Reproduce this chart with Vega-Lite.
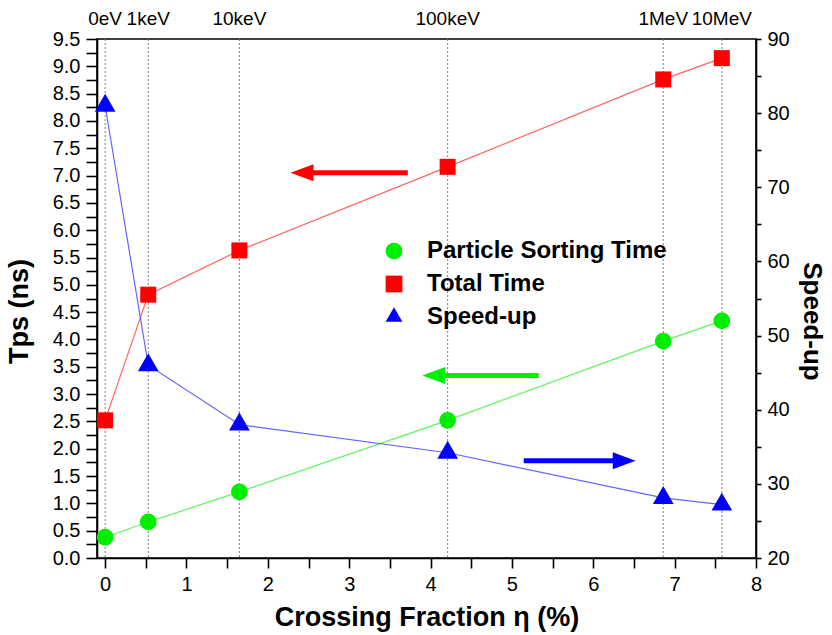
{
  "$schema": "https://vega.github.io/schema/vega-lite/v6.json",
  "width": 659,
  "height": 519,
  "autosize": {"type": "none"},
  "padding": {"left": 97, "top": 39, "right": 76, "bottom": 77},
  "background": "white",
  "config": {
    "view": {"stroke": "black", "strokeWidth": 1.6},
    "axis": {
      "grid": false,
      "domainColor": "black",
      "domainWidth": 1.6,
      "tickColor": "black",
      "tickWidth": 1.6,
      "labelFont": "Liberation Sans",
      "labelFontSize": 20,
      "labelColor": "black",
      "labelFlush": false,
      "labelOverlap": false,
      "titleFont": "Liberation Sans",
      "titleFontSize": 27,
      "titleFontWeight": "bold",
      "titleColor": "black"
    },
    "legend": {
      "title": null,
      "orient": "none",
      "legendX": 285,
      "legendY": 200,
      "labelFont": "Liberation Sans",
      "labelFontSize": 24,
      "labelFontWeight": "bold",
      "labelColor": "black",
      "labelLimit": 400,
      "labelOffset": 21,
      "rowPadding": 9,
      "symbolSize": 280
    }
  },
  "datasets": {
    "series": [
      {"series": "Particle Sorting Time", "eta": 0, "value": 0.38},
      {"series": "Particle Sorting Time", "eta": 0.53, "value": 0.66},
      {"series": "Particle Sorting Time", "eta": 1.65, "value": 1.21},
      {"series": "Particle Sorting Time", "eta": 4.21, "value": 2.52},
      {"series": "Particle Sorting Time", "eta": 6.86, "value": 3.97},
      {"series": "Particle Sorting Time", "eta": 7.58, "value": 4.34},
      {"series": "Total Time", "eta": 0, "value": 2.52},
      {"series": "Total Time", "eta": 0.53, "value": 4.82},
      {"series": "Total Time", "eta": 1.65, "value": 5.63},
      {"series": "Total Time", "eta": 4.21, "value": 7.16},
      {"series": "Total Time", "eta": 6.86, "value": 8.76},
      {"series": "Total Time", "eta": 7.58, "value": 9.15},
      {"series": "Speed-up", "eta": 0, "value": 81},
      {"series": "Speed-up", "eta": 0.53, "value": 46},
      {"series": "Speed-up", "eta": 1.65, "value": 38},
      {"series": "Speed-up", "eta": 4.21, "value": 34.2},
      {"series": "Speed-up", "eta": 6.86, "value": 28.1},
      {"series": "Speed-up", "eta": 7.58, "value": 27.2}
    ],
    "energies": [
      {"energy": "0eV", "eta": 0},
      {"energy": "1keV", "eta": 0.53},
      {"energy": "10keV", "eta": 1.65},
      {"energy": "100keV", "eta": 4.21},
      {"energy": "1MeV", "eta": 6.86},
      {"energy": "10MeV", "eta": 7.58}
    ],
    "arrows": [
      {"series": "Total Time", "tail": 3.72, "head": 2.42, "level": 7.05},
      {"series": "Particle Sorting Time", "tail": 5.33, "head": 4.04, "level": 3.34},
      {"series": "Speed-up", "tail": 5.145, "head": 6.38, "level": 33.1}
    ]
  },
  "layer": [
    {
      "data": {"name": "energies"},
      "mark": {"type": "rule", "color": "#808080", "strokeDash": [2, 2], "strokeWidth": 1},
      "encoding": {
        "x": {
          "field": "eta", "type": "quantitative",
          "scale": {"domain": [-0.1, 8], "nice": false, "zero": false},
          "axis": {
            "orient": "bottom",
            "values": [0, 0.5, 1, 1.5, 2, 2.5, 3, 3.5, 4, 4.5, 5, 5.5, 6, 6.5, 7, 7.5, 8],
            "labelExpr": "datum.value % 1 === 0 ? format(datum.value, 'd') : ''",
            "tickSize": 10,
            "labelPadding": 6,
            "title": "Crossing Fraction η (%)",
            "titleBaseline": "alphabetic",
            "titleY": 67,
            "encode": {"ticks": {"y2": {"value": {"expr": "datum.value % 1 === 0 ? 10 : 6"}}}}
          }
        }
      }
    },
    {
      "data": {"name": "energies"},
      "mark": {"type": "text", "font": "Liberation Sans", "fontSize": 19, "color": "black", "baseline": "alphabetic", "dy": -14},
      "encoding": {
        "x": {"field": "eta", "type": "quantitative", "scale": {"domain": [-0.1, 8], "nice": false, "zero": false}},
        "y": {"datum": 9.5, "type": "quantitative", "scale": {"domain": [0, 9.5], "nice": false, "zero": false}, "axis": null},
        "text": {"field": "energy"}
      }
    },
    {
      "data": {"name": "series"},
      "transform": [{"filter": "datum.series === 'Particle Sorting Time'"}],
      "mark": {"type": "line", "strokeWidth": 1.2, "color": "#5ef55e"},
      "encoding": {
        "x": {"field": "eta", "type": "quantitative", "scale": {"domain": [-0.1, 8], "nice": false, "zero": false}},
        "y": {
          "field": "value", "type": "quantitative",
          "scale": {"domain": [0, 9.5], "nice": false, "zero": false},
          "axis": {
            "orient": "left",
            "values": [0, 0.25, 0.5, 0.75, 1, 1.25, 1.5, 1.75, 2, 2.25, 2.5, 2.75, 3, 3.25, 3.5, 3.75, 4, 4.25, 4.5, 4.75, 5, 5.25, 5.5, 5.75, 6, 6.25, 6.5, 6.75, 7, 7.25, 7.5, 7.75, 8, 8.25, 8.5, 8.75, 9, 9.25, 9.5],
            "labelExpr": "datum.value % 0.5 === 0 ? format(datum.value, '.1f') : ''",
            "tickSize": 11,
            "labelPadding": 6,
            "title": "Tps (ns)",
            "titleAngle": -90,
            "titleX": -70,
            "titleY": 272,
            "titleBaseline": "alphabetic",
            "encode": {"ticks": {"x2": {"value": {"expr": "datum.value % 0.5 === 0 ? -11 : -6"}}}}
          }
        }
      }
    },
    {
      "data": {"name": "series"},
      "transform": [{"filter": "datum.series === 'Total Time'"}],
      "mark": {"type": "line", "strokeWidth": 1.2, "color": "#ff6464"},
      "encoding": {
        "x": {"field": "eta", "type": "quantitative", "scale": {"domain": [-0.1, 8], "nice": false, "zero": false}},
        "y": {"field": "value", "type": "quantitative", "scale": {"domain": [0, 9.5], "nice": false, "zero": false}, "axis": null}
      }
    },
    {
      "data": {"name": "series"},
      "transform": [{"filter": "datum.series === 'Speed-up'"}],
      "mark": {"type": "line", "strokeWidth": 1.2, "color": "#6464ff"},
      "encoding": {
        "x": {"field": "eta", "type": "quantitative", "scale": {"domain": [-0.1, 8], "nice": false, "zero": false}},
        "y": {
          "field": "value", "type": "quantitative",
          "scale": {"domain": [20, 90], "nice": false, "zero": false},
          "axis": {
            "orient": "right",
            "values": [20, 25, 30, 35, 40, 45, 50, 55, 60, 65, 70, 75, 80, 85, 90],
            "labelExpr": "datum.value % 10 === 0 ? format(datum.value, 'd') : ''",
            "tickSize": 5,
            "labelPadding": 6,
            "title": "Speed-up",
            "titleFontSize": 26,
            "titleAngle": 90,
            "titleX": 47,
            "titleY": 282,
            "titleBaseline": "alphabetic",
            "encode": {"ticks": {"x2": {"value": {"expr": "datum.value % 10 === 0 ? -11 : -6"}}}}
          }
        }
      }
    },
    {
      "data": {"name": "series"},
      "transform": [{"filter": "datum.series === 'Particle Sorting Time'"}],
      "mark": {"type": "point", "filled": true, "size": 280, "opacity": 1},
      "encoding": {
        "x": {"field": "eta", "type": "quantitative", "scale": {"domain": [-0.1, 8], "nice": false, "zero": false}},
        "y": {"field": "value", "type": "quantitative", "scale": {"domain": [0, 9.5], "nice": false, "zero": false}, "axis": null},
        "color": {
          "field": "series", "type": "nominal",
          "scale": {"domain": ["Particle Sorting Time", "Total Time", "Speed-up"], "range": ["#00ee00", "#ff0000", "#0000ff"]}
        },
        "shape": {
          "field": "series", "type": "nominal",
          "scale": {"domain": ["Particle Sorting Time", "Total Time", "Speed-up"], "range": ["circle", "square", "M0,-1.151L1,0.575L-1,0.575Z"]}
        }
      }
    },
    {
      "data": {"name": "series"},
      "transform": [{"filter": "datum.series === 'Total Time'"}],
      "mark": {"type": "point", "filled": true, "size": 256, "opacity": 1},
      "encoding": {
        "x": {"field": "eta", "type": "quantitative", "scale": {"domain": [-0.1, 8], "nice": false, "zero": false}},
        "y": {"field": "value", "type": "quantitative", "scale": {"domain": [0, 9.5], "nice": false, "zero": false}, "axis": null},
        "color": {
          "field": "series", "type": "nominal",
          "scale": {"domain": ["Particle Sorting Time", "Total Time", "Speed-up"], "range": ["#00ee00", "#ff0000", "#0000ff"]}
        },
        "shape": {
          "field": "series", "type": "nominal",
          "scale": {"domain": ["Particle Sorting Time", "Total Time", "Speed-up"], "range": ["circle", "square", "M0,-1.151L1,0.575L-1,0.575Z"]}
        }
      }
    },
    {
      "data": {"name": "series"},
      "transform": [{"filter": "datum.series === 'Speed-up'"}],
      "mark": {"type": "point", "filled": true, "size": 430, "opacity": 1},
      "encoding": {
        "x": {"field": "eta", "type": "quantitative", "scale": {"domain": [-0.1, 8], "nice": false, "zero": false}},
        "y": {"field": "value", "type": "quantitative", "scale": {"domain": [20, 90], "nice": false, "zero": false}, "axis": null},
        "color": {
          "field": "series", "type": "nominal",
          "scale": {"domain": ["Particle Sorting Time", "Total Time", "Speed-up"], "range": ["#00ee00", "#ff0000", "#0000ff"]}
        },
        "shape": {
          "field": "series", "type": "nominal",
          "scale": {"domain": ["Particle Sorting Time", "Total Time", "Speed-up"], "range": ["circle", "square", "M0,-1.151L1,0.575L-1,0.575Z"]}
        }
      }
    },
    {
      "data": {"name": "arrows"},
      "transform": [{"filter": "datum.series === 'Total Time'"}],
      "mark": {"type": "rule", "strokeWidth": 5, "color": "#ff0000"},
      "encoding": {
        "x": {"field": "tail", "type": "quantitative", "scale": {"domain": [-0.1, 8], "nice": false, "zero": false}},
        "x2": {"field": "head"},
        "y": {"field": "level", "type": "quantitative", "scale": {"domain": [0, 9.5], "nice": false, "zero": false}, "axis": null}
      }
    },
    {
      "data": {"name": "arrows"},
      "transform": [{"filter": "datum.series === 'Total Time'"}],
      "mark": {"type": "point", "shape": "M1.35,-1L-1.35,0L1.35,1Z", "filled": true, "size": 289, "opacity": 1, "color": "#ff0000"},
      "encoding": {
        "x": {"field": "head", "type": "quantitative", "scale": {"domain": [-0.1, 8], "nice": false, "zero": false}},
        "y": {"field": "level", "type": "quantitative", "scale": {"domain": [0, 9.5], "nice": false, "zero": false}, "axis": null}
      }
    },
    {
      "data": {"name": "arrows"},
      "transform": [{"filter": "datum.series === 'Particle Sorting Time'"}],
      "mark": {"type": "rule", "strokeWidth": 5, "color": "#00ee00"},
      "encoding": {
        "x": {"field": "tail", "type": "quantitative", "scale": {"domain": [-0.1, 8], "nice": false, "zero": false}},
        "x2": {"field": "head"},
        "y": {"field": "level", "type": "quantitative", "scale": {"domain": [0, 9.5], "nice": false, "zero": false}, "axis": null}
      }
    },
    {
      "data": {"name": "arrows"},
      "transform": [{"filter": "datum.series === 'Particle Sorting Time'"}],
      "mark": {"type": "point", "shape": "M1.35,-1L-1.35,0L1.35,1Z", "filled": true, "size": 289, "opacity": 1, "color": "#00ee00"},
      "encoding": {
        "x": {"field": "head", "type": "quantitative", "scale": {"domain": [-0.1, 8], "nice": false, "zero": false}},
        "y": {"field": "level", "type": "quantitative", "scale": {"domain": [0, 9.5], "nice": false, "zero": false}, "axis": null}
      }
    },
    {
      "data": {"name": "arrows"},
      "transform": [{"filter": "datum.series === 'Speed-up'"}],
      "mark": {"type": "rule", "strokeWidth": 5, "color": "#0000ff"},
      "encoding": {
        "x": {"field": "tail", "type": "quantitative", "scale": {"domain": [-0.1, 8], "nice": false, "zero": false}},
        "x2": {"field": "head"},
        "y": {"field": "level", "type": "quantitative", "scale": {"domain": [20, 90], "nice": false, "zero": false}, "axis": null}
      }
    },
    {
      "data": {"name": "arrows"},
      "transform": [{"filter": "datum.series === 'Speed-up'"}],
      "mark": {"type": "point", "shape": "M-1.35,-1L1.35,0L-1.35,1Z", "filled": true, "size": 289, "opacity": 1, "color": "#0000ff"},
      "encoding": {
        "x": {"field": "head", "type": "quantitative", "scale": {"domain": [-0.1, 8], "nice": false, "zero": false}},
        "y": {"field": "level", "type": "quantitative", "scale": {"domain": [20, 90], "nice": false, "zero": false}, "axis": null}
      }
    }
  ],
  "resolve": {"scale": {"y": "independent"}}
}
